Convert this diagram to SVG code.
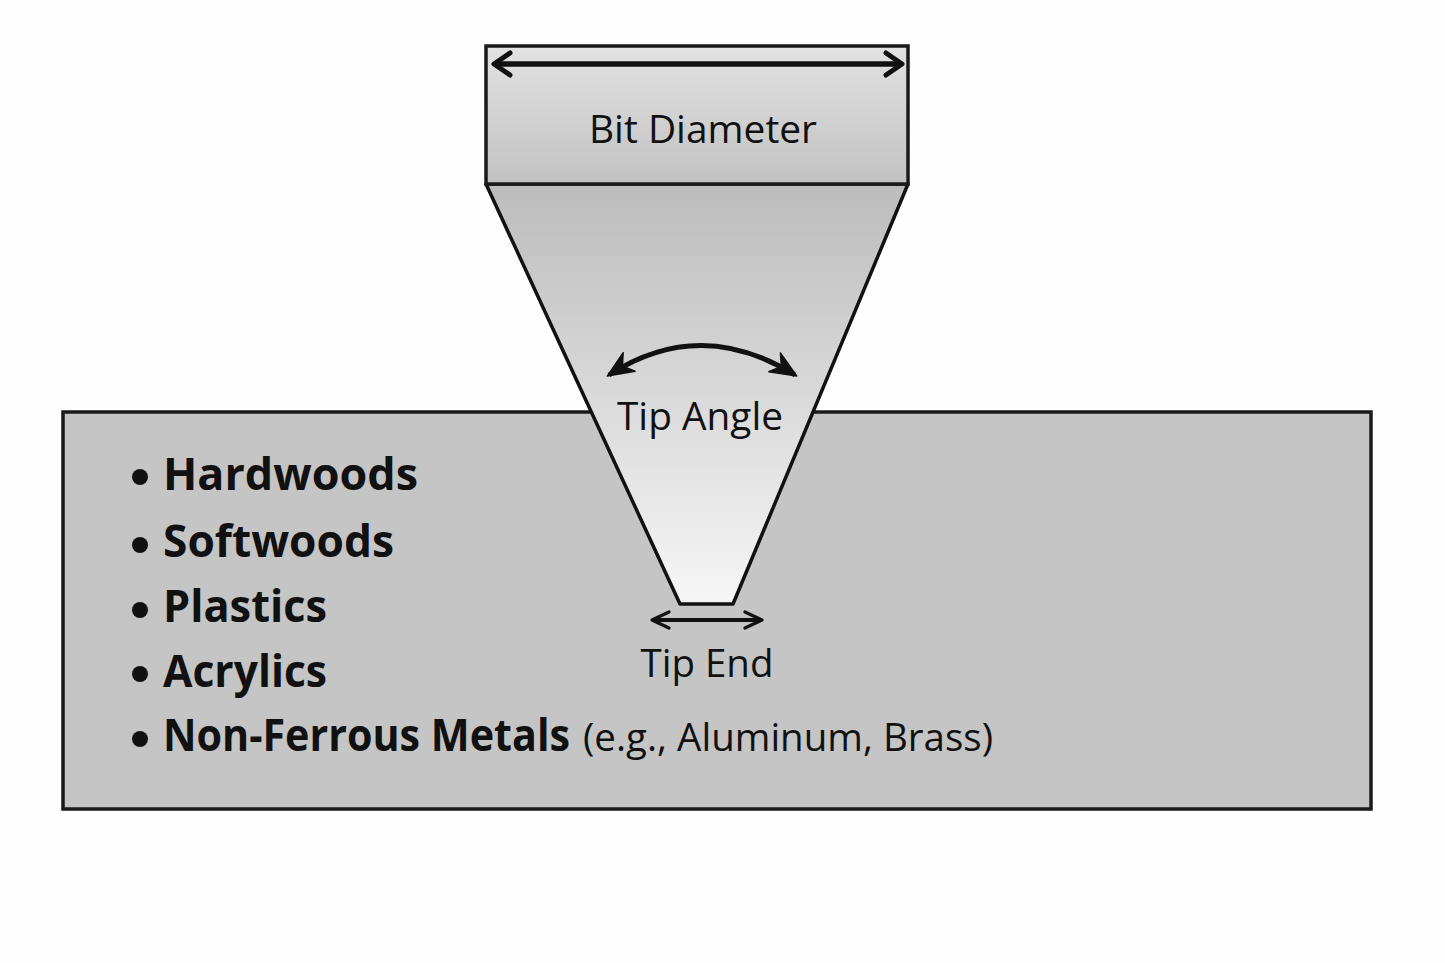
<svg xmlns="http://www.w3.org/2000/svg" width="1445" height="963" viewBox="0 0 1445 963">
<defs>
<linearGradient id="gBit" x1="0" y1="0" x2="0" y2="1">
<stop offset="0" stop-color="#e2e2e2"/>
<stop offset="1" stop-color="#c2c2c2"/>
</linearGradient>
<linearGradient id="gCone" x1="0" y1="0" x2="0" y2="1">
<stop offset="0" stop-color="#bcbcbc"/>
<stop offset="1" stop-color="#f6f6f6"/>
</linearGradient>
<marker id="chev" viewBox="0 0 24 30" refX="20" refY="15" markerWidth="24" markerHeight="30" markerUnits="userSpaceOnUse" orient="auto-start-reverse">
<path d="M4,4 L20,15 L4,26" fill="none" stroke="#111" stroke-width="5" stroke-linecap="round" stroke-linejoin="round"/>
</marker>
<marker id="chevS" viewBox="0 0 24 24" refX="20" refY="12" markerWidth="24" markerHeight="24" markerUnits="userSpaceOnUse" orient="auto-start-reverse">
<path d="M3,4 L20,12 L3,20" fill="none" stroke="#111" stroke-width="3.2" stroke-linecap="round" stroke-linejoin="round"/>
</marker>
<marker id="tri" viewBox="0 0 30 26" refX="26" refY="13" markerWidth="30" markerHeight="26" markerUnits="userSpaceOnUse" orient="auto-start-reverse">
<path d="M2,2 L28,13 L2,24 L10,13 Z" fill="#111" stroke="#111" stroke-width="1.5" stroke-linejoin="round"/>
</marker>
</defs>
<style>
.lbl{font-family:"Open Sans","Noto Sans","Liberation Sans",sans-serif;font-size:39px;fill:#111;}
.item{font-family:"Open Sans","Noto Sans","Liberation Sans",sans-serif;font-size:44px;font-weight:700;fill:#111;}
.note{font-family:"Open Sans","Noto Sans","Liberation Sans",sans-serif;font-size:38px;font-weight:400;fill:#111;}
.edge{fill:none;stroke:#111;}
</style>
<rect width="1445" height="963" fill="#fefefe"/>
<g id="workpiece">
<rect x="63" y="412" width="1308" height="397" fill="#c5c5c5" stroke="#1a1a1a" stroke-width="3.5"/>
<g id="materials">
<circle cx="140" cy="477" r="8" fill="#111"/>
<text class="item" x="163" y="490" textLength="255" lengthAdjust="spacingAndGlyphs">Hardwoods</text>
<circle cx="140" cy="545" r="8" fill="#111"/>
<text class="item" x="163" y="557" textLength="231" lengthAdjust="spacingAndGlyphs">Softwoods</text>
<circle cx="140" cy="610" r="8" fill="#111"/>
<text class="item" x="163" y="622" textLength="164" lengthAdjust="spacingAndGlyphs">Plastics</text>
<circle cx="140" cy="674" r="8" fill="#111"/>
<text class="item" x="163" y="687" textLength="164" lengthAdjust="spacingAndGlyphs">Acrylics</text>
<circle cx="140" cy="739" r="8" fill="#111"/>
<text class="item" x="163" y="751" textLength="407" lengthAdjust="spacingAndGlyphs">Non-Ferrous Metals</text>
<text class="note" x="583" y="751" textLength="410" lengthAdjust="spacingAndGlyphs">(e.g., Aluminum, Brass)</text>
</g>
</g>
<g id="bit-cone">
<polygon points="486,184 908,184 733,604 680,604" fill="url(#gCone)" stroke="#111" stroke-width="3.5" stroke-linejoin="round"/>
</g>
<g id="bit-shank">
<rect x="486" y="46" width="422" height="138" fill="url(#gBit)" stroke="#1a1a1a" stroke-width="3.5"/>
<text class="lbl" x="703" y="143" text-anchor="middle" textLength="228" lengthAdjust="spacingAndGlyphs">Bit Diameter</text>
</g>
<g id="tip-angle-label">
<text class="lbl" x="700" y="430" text-anchor="middle" textLength="166" lengthAdjust="spacingAndGlyphs">Tip Angle</text>
</g>
<g id="tip-end-label">
<text class="lbl" x="707" y="677" text-anchor="middle" textLength="133" lengthAdjust="spacingAndGlyphs">Tip End</text>
</g>
<g id="connectors">
<line class="edge" x1="494" y1="64" x2="902" y2="64" stroke-width="5.5" marker-start="url(#chev)" marker-end="url(#chev)"/>
<path class="edge" d="M609,375 Q700,316 795,375" stroke-width="5" marker-start="url(#tri)" marker-end="url(#tri)"/>
<line class="edge" x1="652" y1="620" x2="762" y2="620" stroke-width="3.8" marker-start="url(#chevS)" marker-end="url(#chevS)"/>
</g>
</svg>
